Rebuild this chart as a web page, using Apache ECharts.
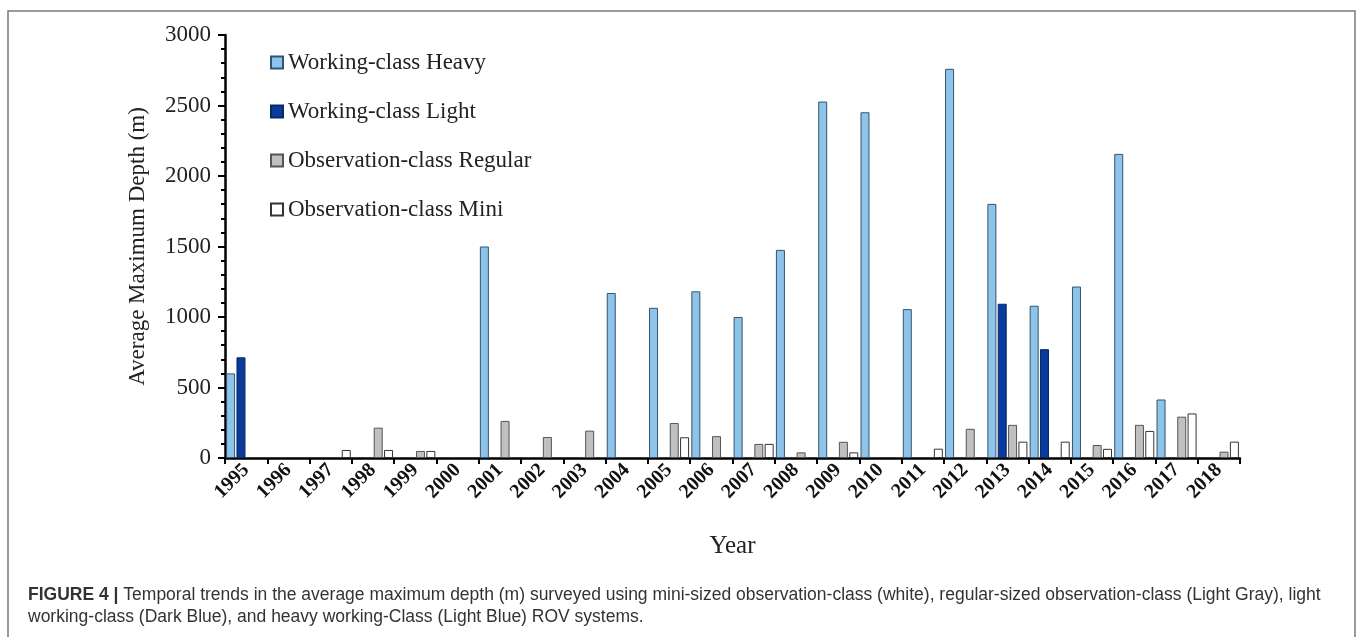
<!DOCTYPE html>
<html>
<head>
<meta charset="utf-8">
<script src="https://cdn.jsdelivr.net/npm/echarts@6/dist/echarts.min.js"></script>
<style>
  html, body { margin: 0; padding: 0; background: #fff; }
  #chart { width: 1360px; height: 637px; }
</style>
</head>
<body>
<div id="chart"></div>
<script>
// years on x axis
const years = ['1995','1996','1997','1998','1999','2000','2001','2002','2003','2004','2005','2006',
  '2007','2008','2009','2010','2011','2012','2013','2014','2015','2016','2017','2018'];

// average maximum depth (m) (null = no bar)
const heavy   = [600, null, null, null, null, null, 1500, null, null, 1170, 1065, 1182, 1000, 1476, 2528, 2452, 1056, 2760, 1802, 1080, 1216, 2157, 415, null];
const light   = [714, null, null, null, null, null, null, null, null, null, null, null, null, null, null, null, null, null, 1094, 772, null, null, null, null];
const regular = [null, null, null, 215, 50, null, 263, 149, 194, null, 248, 155, 100, 40, 115, null, null, 207, 235, null, 92, 235, 293, 45];
const mini    = [null, null, 57, 57, 50, null, null, null, null, null, 147, null, 100, null, 40, null, 66, null, 116, 116, 65, 192, 316, 116];

const yTicks = [0, 500, 1000, 1500, 2000, 2500, 3000];

const chart = echarts.init(document.getElementById('chart'));

// 每个系列的样式
function barSeries(name, data, fill, border) {
  return {
    name: name,
    type: 'bar',
    data: data,
    barWidth: 9,
    barGap: '15%',
    itemStyle: { color: fill, borderColor: border, borderWidth: 1 },
    emphasis: { disabled: true }
  };
}

const serif = 'Liberation Serif';

const option = {
  backgroundColor: '#fff',
  animation: false,
  grid: { left: 225, right: 120, top: 35, bottom: 179 },
  legend: {
    orient: 'vertical',
    left: 265,
    top: 46,
    itemWidth: 12,
    itemHeight: 12,
    itemGap: 26,
    icon: 'rect',
    textStyle: { fontFamily: serif, fontSize: 23, color: '#222' },
    data: ['Working-class Heavy', 'Working-class Light', 'Observation-class Regular', 'Observation-class Mini']
  },
  xAxis: {
    type: 'category',
    data: years,
    boundaryGap: true,
    name: 'Year',
    nameLocation: 'middle',
    nameGap: 76,
    nameTextStyle: { fontFamily: serif, fontSize: 25, color: '#222' },
    axisLine: { lineStyle: { color: '#000', width: 2.5 } },
    axisTick: { show: true, length: 6, lineStyle: { color: '#000', width: 2 } },
    axisLabel: {
      rotate: 45,
      interval: 0,
      margin: 9,
      fontFamily: serif,
      fontSize: 20,
      fontWeight: 'bold',
      color: '#111'
    }
  },
  yAxis: {
    type: 'value',
    min: yTicks[0],
    max: yTicks[yTicks.length - 1],
    interval: 500,
    name: 'Average Maximum Depth (m)',
    nameLocation: 'middle',
    nameGap: 76,
    nameRotate: 90,
    nameTextStyle: { fontFamily: serif, fontSize: 23, color: '#222' },
    axisLine: { show: true, lineStyle: { color: '#000', width: 2.5 } },
    axisTick: { show: true, length: 7, lineStyle: { color: '#000', width: 2 } },
    minorTick: { show: true, splitNumber: 5, length: 4, lineStyle: { color: '#000', width: 2 } },
    splitLine: { show: false },
    axisLabel: { fontFamily: serif, fontSize: 23, color: '#222', margin: 14, formatter: v => String(v) }
  },
  series: [
    barSeries('Working-class Heavy', heavy, '#8fc4ea', '#34536e'),
    barSeries('Working-class Light', light, '#0a3a9c', '#0a2a66'),
    barSeries('Observation-class Regular', regular, '#c0c0c0', '#555'),
    barSeries('Observation-class Mini', mini, '#fff', '#333')
  ],
  graphic: [
    {
      type: 'rect',
      shape: { x: 8, y: 11, width: 1347, height: 640 },
      style: { fill: 'none', stroke: '#7a7a7a', lineWidth: 1.5 },
      silent: true
    },
    {
      type: 'text',
      left: 28,
      top: 586,
      style: {
        text: '{b|FIGURE 4 |} Temporal trends in the average maximum depth (m) surveyed using mini-sized observation-class (white), regular-sized observation-class (Light Gray), light',
        rich: {
          b: { fontFamily: 'Liberation Sans', fontSize: 17.5, fontWeight: 'bold', fill: '#333' }
        },
        fontFamily: 'Liberation Sans',
        fontSize: 17.5,
        fill: '#333'
      }
    },
    {
      type: 'text',
      left: 28,
      top: 608,
      style: {
        text: 'working-class (Dark Blue), and heavy working-Class (Light Blue) ROV systems.',
        fontFamily: 'Liberation Sans',
        fontSize: 17.5,
        fill: '#333'
      }
    }
  ]
};

chart.setOption(option);
</script>
</body>
</html>
